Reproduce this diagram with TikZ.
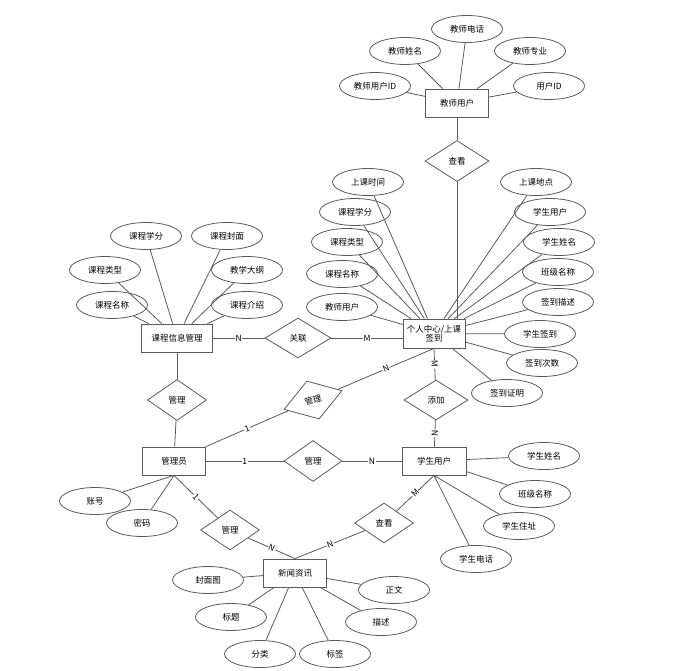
\documentclass[tikz,border=0pt]{standalone}
\usepackage{fontspec}
\setmainfont{Noto Sans CJK SC}
\usepackage{tikz}
\usetikzlibrary{shapes.geometric}
\definecolor{linegray}{HTML}{5A5A5A}

\begin{document}
\begin{tikzpicture}[
            x=1pt, y=-1pt,
            draw=linegray, line width=0.8pt,
            every node/.style={font=\fontsize{8.5}{10}\selectfont, text=black},
            entity node/.style={rectangle, draw=linegray, fill=white, minimum width=63pt, minimum height=28pt, inner sep=1pt},
            attr node/.style={ellipse, draw=linegray, fill=white, minimum width=71pt, minimum height=27pt, inner sep=1pt},
            rel node/.style={diamond, draw=linegray, fill=white, minimum width=60pt, minimum height=41pt, inner sep=1pt},
            card label/.style={sloped, fill=white, inner sep=0.6pt, font=\fontsize{8.5}{10}\selectfont},
            ]
            \useasboundingbox (0,0) rectangle (685,671);

            % entities
            \node[entity node] (teacher) at (457,103) {教师用户};
            \node[entity node, minimum width=62pt, minimum height=29pt, align=center] (signin) at (434,333.5) {个人中心/上课\\[-1pt]签到};
            \node[entity node, minimum width=71pt] (course) at (177,338) {课程信息管理};
            \node[entity node] (admin) at (174,461) {管理员};
            \node[entity node, minimum width=64pt] (student) at (434,461) {学生用户};
            \node[entity node] (news) at (295,573) {新闻资讯};

            % relationships
            \node[rel node, minimum width=64pt] (view1) at (457,161) {查看};
            \node[rel node, minimum width=66pt, minimum height=40pt] (assoc) at (298,338) {关联};
            \node[rel node, minimum width=59pt] (manage1) at (177,400) {管理};
            \node[rel node, minimum width=61pt, minimum height=40pt, rotate=18] (manage2) at (313,400) {管理};
            \node[rel node, minimum width=64pt, minimum height=40pt] (addrel) at (436,400) {添加};
            \node[rel node, minimum width=58pt] (manage3) at (313,461) {管理};
            \node[rel node, minimum width=59pt, minimum height=40pt] (manage4) at (230,530) {管理};
            \node[rel node, minimum width=59pt, minimum height=40pt] (view2) at (384,523) {查看};

            % teacher attributes
            \node[attr node] (t1) at (467,29) {教师电话};
            \node[attr node] (t2) at (405,51) {教师姓名};
            \node[attr node] (t3) at (530,51) {教师专业};
            \node[attr node] (t4) at (375,86) {教师用户ID};
            \node[attr node] (t5) at (549,86) {用户ID};

            % sign-in attributes
            \node[attr node] (s1) at (368,182) {上课时间};
            \node[attr node] (s2) at (355,212) {课程学分};
            \node[attr node] (s3) at (347,242) {课程类型};
            \node[attr node] (s4) at (342,274) {课程名称};
            \node[attr node] (s5) at (342,307) {教师用户};
            \node[attr node] (s6) at (536,182) {上课地点};
            \node[attr node] (s7) at (550,212) {学生用户};
            \node[attr node] (s8) at (559,242) {学生姓名};
            \node[attr node] (s9) at (558,272) {班级名称};
            \node[attr node] (s10) at (558,302) {签到描述};
            \node[attr node] (s11) at (540,334) {学生签到};
            \node[attr node] (s12) at (542,363) {签到次数};
            \node[attr node] (s13) at (507,393) {签到证明};

            % course attributes
            \node[attr node] (c1) at (146,236) {课程学分};
            \node[attr node] (c2) at (227,236) {课程封面};
            \node[attr node] (c3) at (105,270) {课程类型};
            \node[attr node] (c4) at (247,270) {教学大纲};
            \node[attr node] (c5) at (112,305) {课程名称};
            \node[attr node] (c6) at (247,305) {课程介绍};

            % admin attributes
            \node[attr node] (a1) at (95,501) {账号};
            \node[attr node] (a2) at (142,523) {密码};

            % student attributes
            \node[attr node] (u1) at (544,456) {学生姓名};
            \node[attr node] (u2) at (535,494) {班级名称};
            \node[attr node] (u3) at (519,526) {学生住址};
            \node[attr node] (u4) at (476,559) {学生电话};

            % news attributes
            \node[attr node] (n1) at (208,580) {封面图};
            \node[attr node] (n2) at (394,590) {正文};
            \node[attr node] (n3) at (231,617) {标题};
            \node[attr node] (n4) at (381,622) {描述};
            \node[attr node] (n5) at (260,654) {分类};
            \node[attr node] (n6) at (335,654) {标签};

            % attribute lines
            \foreach \a in {t1,t2,t3,t4,t5} \draw (\a) -- (teacher);
            \foreach \a in {s1,s2,s3,s4,s5,s6,s7,s8,s9,s10,s11,s12,s13} \draw (\a) -- (signin);
            \foreach \a in {c1,c2,c3,c4,c5,c6} \draw (\a) -- (course);
            \draw (admin.south) -- (a1);
            \draw (admin.south) -- (a2);
            \draw (student) -- (u1);
            \draw (student) -- (u2);
            \draw (student.south) -- (u3);
            \draw (student.south) -- (u4);
            \foreach \a in {n1,n2,n3,n4,n5,n6} \draw (\a) -- (news);

            % relationship lines
            \draw (teacher) -- (view1);
            \draw (view1) -- (view1 |- signin.north);
            \draw (course) -- node[card label] {N} (assoc);
            \draw (assoc) -- node[card label] {M} (assoc -| signin.west);
            \draw (course) -- (manage1);
            \draw (manage1) -- (admin);
            \draw (admin.north east) -- node[card label] {1} (manage2);
            \draw (manage2) -- node[card label] {N} (signin.south);
            \draw (signin.south) -- node[card label] {M} (addrel);
            \draw (addrel) -- node[card label] {N} (student);
            \draw (admin) -- node[card label] {1} (manage3);
            \draw (manage3) -- node[card label] {N} (student);
            \draw (admin.south) -- node[card label] {1} (manage4);
            \draw (manage4) -- node[card label] {N} (news.north);
            \draw (student.south) -- node[card label] {M} (view2);
            \draw (view2) -- node[card label] {N} (news.north);
        \end{tikzpicture}
\end{document}
